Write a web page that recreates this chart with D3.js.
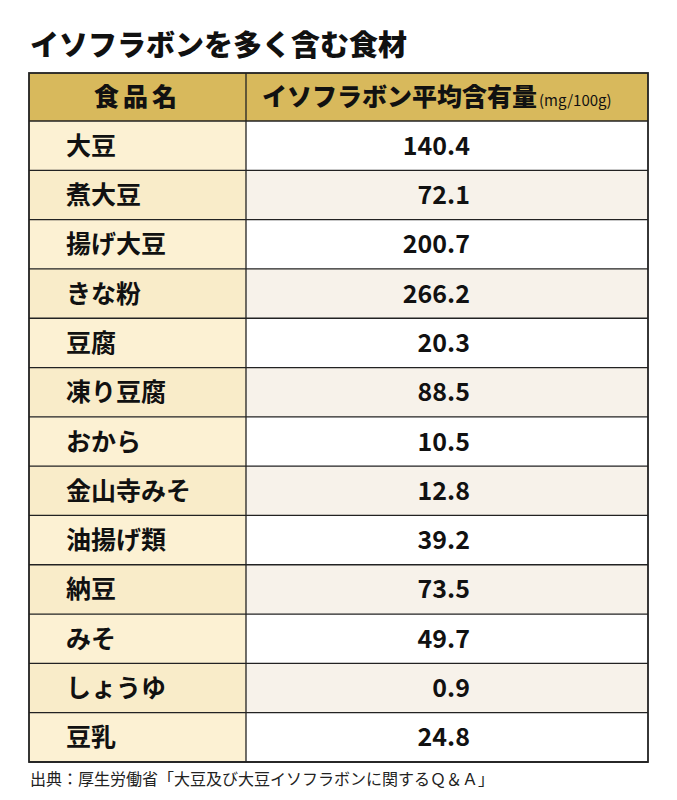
<!DOCTYPE html>
<html><head><meta charset="utf-8">
<script src="https://cdn.jsdelivr.net/npm/d3@7"></script>
<style>body{margin:0;background:#fff}</style>
</head><body><svg width="677" height="800"></svg>
<script>
const foods = ['大豆','煮大豆','揚げ大豆','きな粉','豆腐','凍り豆腐','おから','金山寺みそ','油揚げ類','納豆','みそ','しょうゆ','豆乳'];
const values = [140.4,72.1,200.7,266.2,20.3,88.5,10.5,12.8,39.2,73.5,49.7,0.9,24.8];
const headers = ['食品名','イソフラボン平均含有量'];
const unit = '(mg/100g)';
const FONT = '"Noto Sans CJK JP", sans-serif';

const svg = d3.select('svg');
const L = 29, M = 246, R = 648, tableTop = 73, headH = 48, bottom = 762;

svg.append('text').attr('x', 30).attr('y', 56).attr('font-family', FONT)
  .attr('font-weight', 900).attr('font-size', 29).attr('fill', '#111')
  .text('イソフラボンを多く含む食材');

const y = d3.scaleBand().domain(d3.range(foods.length)).range([tableTop + headH, bottom]);

// header
svg.append('rect').attr('x', L).attr('y', tableTop).attr('width', R - L).attr('height', headH).attr('fill', '#d8b95c');
svg.append('text').attr('x', (L + M) / 2).attr('y', tableTop + headH / 2 + 9).attr('text-anchor', 'middle')
  .attr('font-family', FONT).attr('font-weight', 900).attr('font-size', 25).attr('letter-spacing', 4).attr('fill', '#111')
  .text(headers[0]);
const h2 = svg.append('text').attr('x', 262).attr('y', tableTop + headH / 2 + 9)
  .attr('font-family', FONT).attr('font-weight', 900).attr('font-size', 25).attr('fill', '#111');
h2.append('tspan').text(headers[1]);
h2.append('tspan').attr('font-size', 15).attr('font-weight', 400).attr('dx', 2).text(unit);

const rows = svg.append('g').selectAll('g').data(foods).join('g');
rows.append('rect').attr('x', L).attr('y', (d, i) => y(i)).attr('width', M - L).attr('height', y.bandwidth())
  .attr('fill', (d, i) => i % 2 ? '#f9ecc9' : '#fcf1d3');
rows.append('rect').attr('x', M).attr('y', (d, i) => y(i)).attr('width', R - M).attr('height', y.bandwidth())
  .attr('fill', (d, i) => i % 2 ? '#f7f2ea' : '#ffffff');
rows.append('text').attr('x', 66).attr('y', (d, i) => y(i) + y.bandwidth() / 2 + 9)
  .attr('font-family', FONT).attr('font-weight', 700).attr('font-size', 25).attr('fill', '#111').text(d => d);
rows.append('text').attr('x', 470).attr('y', (d, i) => y(i) + y.bandwidth() / 2 + 9).attr('text-anchor', 'end')
  .attr('font-family', FONT).attr('font-weight', 700).attr('font-size', 25).attr('fill', '#111')
  .text((d, i) => values[i].toFixed(1));

// grid lines
const g = svg.append('g').attr('stroke', '#222').attr('stroke-width', 1.3);
g.selectAll('.h').data(d3.range(foods.length + 1)).join('line')
  .attr('x1', L).attr('x2', R).attr('y1', i => i === foods.length ? bottom : y(i)).attr('y2', i => i === foods.length ? bottom : y(i));
g.append('line').attr('x1', M).attr('x2', M).attr('y1', tableTop).attr('y2', bottom);
g.append('rect').attr('x', L).attr('y', tableTop).attr('width', R - L).attr('height', bottom - tableTop).attr('fill', 'none').attr('stroke-width', 1.8);

svg.append('text').attr('x', 30).attr('y', 785).attr('font-family', FONT).attr('font-size', 16).attr('fill', '#222')
  .text('出典：厚生労働省「大豆及び大豆イソフラボンに関するＱ＆Ａ」');
</script></body></html>
